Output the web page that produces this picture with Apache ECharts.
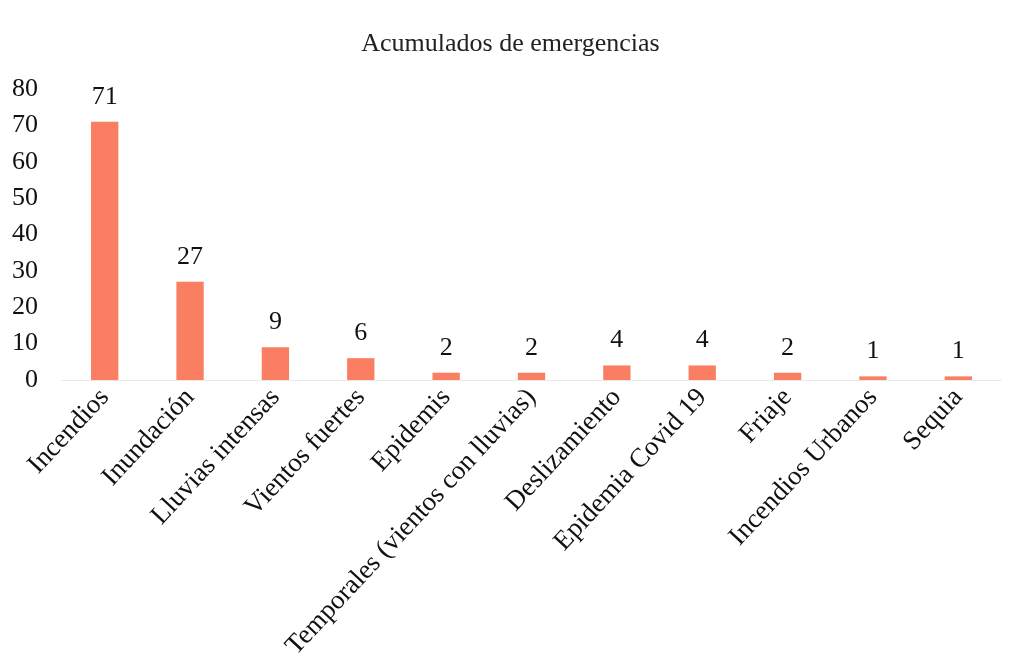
<!DOCTYPE html>
<html><head><meta charset="utf-8">
<script src="https://cdn.jsdelivr.net/npm/echarts@6/dist/echarts.min.js"></script>
<style>html,body{margin:0;padding:0;background:#fff}#c{width:1021px;height:670px}</style>
</head><body><div id="c"></div>
<script>
const categories = ["Incendios","Inundación","Lluvias intensas","Vientos fuertes","Epidemis","Temporales (vientos con lluvias)","Deslizamiento","Epidemia Covid 19","Friaje","Incendios Urbanos","Sequia"];
const values = [71,27,9,6,2,2,4,4,2,1,1];
const yTicks = [0,10,20,30,40,50,60,70,80];
const font = "'Liberation Serif','DejaVu Serif',serif";
const chart = echarts.init(document.getElementById('c'));
chart.setOption({
  animation:false,
  title:{text:"Acumulados de emergencias",left:'center',top:26,textStyle:{fontFamily:font,fontSize:26,fontWeight:'normal',color:'#222'}},
  grid:{left:62,right:20,top:89,bottom:290},
  xAxis:{type:'category',data:categories,
    axisLine:{show:true,lineStyle:{color:'#e4e4e4',type:'dotted'}},axisTick:{show:false},
    axisLabel:{rotate:47,interval:0,fontFamily:font,fontSize:27,color:'#111',margin:13}},
  yAxis:{type:'value',min:yTicks[0],max:yTicks[yTicks.length-1],interval:10,
    axisLine:{show:false},axisTick:{show:false},splitLine:{show:false},
    axisLabel:{fontFamily:font,fontSize:26,color:'#111',margin:24}},
  series:[{type:'bar',data:values,barWidth:'32%',itemStyle:{color:'#FA7E62'},
    label:{show:true,position:'top',distance:12,fontFamily:font,fontSize:26,color:'#111'}}]
});
</script></body></html>
